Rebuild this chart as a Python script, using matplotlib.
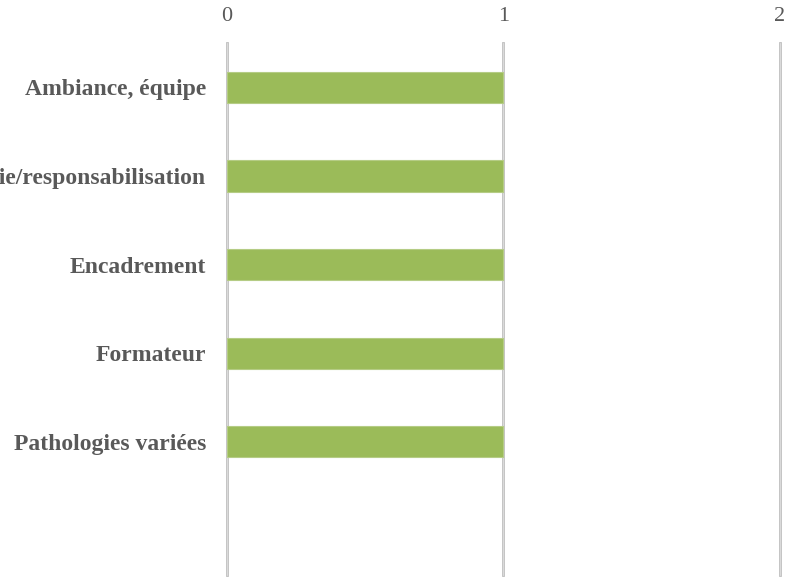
import matplotlib
matplotlib.use("Agg")
import matplotlib.pyplot as plt

categories = ["Ambiance, équipe", "Autonomie/responsabilisation", "Encadrement",
              "Formateur", "Pathologies variées"]
values = [1, 1, 1, 1, 1]
xticks = [0, 1, 2]

fig = plt.figure(figsize=(7.85, 5.77), dpi=100)
ax = fig.add_axes([0.2892, 0.0035, 0.7044, 0.922])

ypos = list(range(len(categories)))
ax.barh(ypos, values, height=0.35, color="#9BBB59", edgecolor="#B5CC85",
        linewidth=0.8, zorder=3)

ax.set_xlim(0, 2)
# one empty slot below the last category, as in the reference
ax.set_ylim(len(categories) + 0.5, -0.5)
ax.set_yticks(ypos)
ax.set_yticklabels(categories, fontfamily="Liberation Serif", fontweight="bold",
                   fontsize=17, color="#595959")
ax.set_xticks(xticks)
ax.set_xticklabels([str(t) for t in xticks], fontfamily="Liberation Serif",
                   fontsize=16, color="#595959")
ax.xaxis.tick_top()
ax.tick_params(axis="x", length=0, pad=12)
ax.tick_params(axis="y", length=0, pad=15)
for s in ax.spines.values():
    s.set_visible(False)
ax.grid(False)
for x in xticks:
    ax.axvline(x, color="#BFBFBF", linewidth=2.0, zorder=1, clip_on=False)
    ax.axvline(x, color="#E6E6E6", linewidth=0.5, zorder=1, clip_on=False)

fig.savefig("out.png", dpi=100)
